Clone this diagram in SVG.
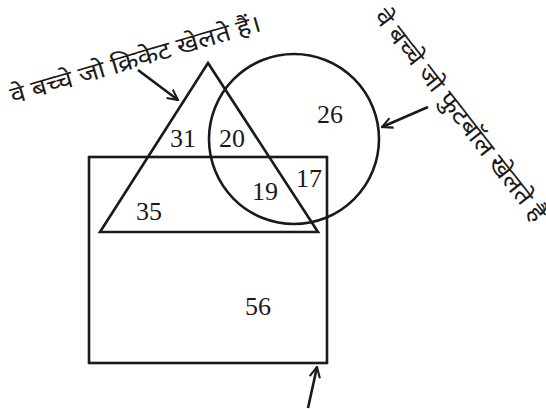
<svg xmlns="http://www.w3.org/2000/svg" width="546" height="409" viewBox="0 0 546 409">
<style>
.sh{fill:none;stroke:#1a1a1a;stroke-width:2.6}
.num{font-family:"Liberation Serif","Times New Roman",serif;font-size:26px;fill:#1a1a1a;text-anchor:middle}
.hi{font-family:"Noto Sans","Noto Sans Devanagari",sans-serif;font-size:24px;fill:#1a1a1a}
.ar{fill:none;stroke:#1a1a1a;stroke-width:2.6}
</style>
<defs>
<marker id="ah" viewBox="0 0 10 10" refX="9" refY="5" markerWidth="5" markerHeight="5" orient="auto" markerUnits="strokeWidth">
<path d="M1,1 L9,5 L1,9" fill="none" stroke="#1a1a1a" stroke-width="1.6"/>
</marker>
</defs>
<rect width="546" height="409" fill="#fff"/>
<g id="rectangle"><rect class="sh" x="89" y="157" width="238" height="206"/></g>
<g id="triangle"><polygon class="sh" points="208,63 100,232 318,232"/></g>
<g id="circle"><circle class="sh" cx="294" cy="139" r="85"/></g>
<g id="numbers">
<text class="num" x="183" y="147">31</text>
<text class="num" x="232" y="147">20</text>
<text class="num" x="330" y="123">26</text>
<text class="num" x="265" y="200">19</text>
<text class="num" x="309" y="187">17</text>
<text class="num" x="149" y="220">35</text>
<text class="num" x="258" y="315">56</text>
</g>
<g id="labels">
<text class="hi" transform="translate(13,104) rotate(-16.4)" textLength="260" lengthAdjust="spacingAndGlyphs">वे बच्चे जो क्रिकेट खेलते हैं।</text>
<text class="hi" transform="translate(373,17) rotate(52)" textLength="262" lengthAdjust="spacingAndGlyphs">वे बच्चे जो फुटबॉल खेलते हैं</text>
</g>
<g id="connectors">
<line class="ar" x1="138" y1="70" x2="178" y2="100" marker-end="url(#ah)"/>
<line class="ar" x1="428" y1="107" x2="382" y2="127" marker-end="url(#ah)"/>
<line class="ar" x1="308" y1="408" x2="317" y2="367" marker-end="url(#ah)"/>
</g>
</svg>
